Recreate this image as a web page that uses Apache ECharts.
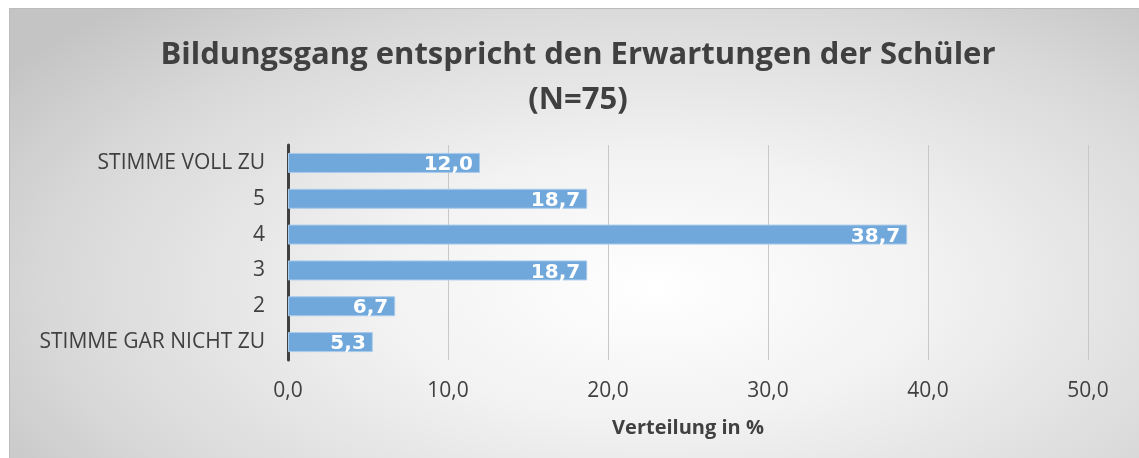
<!DOCTYPE html>
<html>
<head>
<meta charset="utf-8">
<script src="https://cdn.jsdelivr.net/npm/echarts@6/dist/echarts.min.js"></script>
<style>
  body { margin: 0; background: #fff; }
  #frame {
    position: absolute; left: 9px; top: 8px; width: 1130px; height: 450px;
    border-top: 1px solid #bcbcbc; border-left: 1px solid #bcbcbc;
    background: radial-gradient(ellipse 70% 85% at 57% 62%, #ffffff 0%, #f2f2f2 35%, #d9d9d9 75%, #c4c4c4 100%);
  }
  #chart { position: absolute; left: 0; top: 0; width: 1139px; height: 458px; }
</style>
</head>
<body>
<div id="frame"></div>
<div id="chart"></div>
<script>
  // Antwortkategorien (von unten nach oben)
  const categories = ['STIMME GAR NICHT ZU', '2', '3', '4', '5', 'STIMME VOLL ZU'];
  const values = [5.3, 6.7, 18.7, 38.7, 18.7, 12.0];
  const xTicks = [0, 10, 20, 30, 40, 50];

  const font = '"Open Sans", sans-serif';
  const fmt = v => v.toFixed(1).replace('.', ',');

  let chart = echarts.init(document.getElementById('chart'));
  let option = {
    backgroundColor: 'transparent',
    animation: false,
    title: {
      text: 'Bildungsgang entspricht den Erwartungen der Schüler\n(N=75)',
      left: 573,
      textAlign: 'center',
      top: 28,
      textStyle: {
        fontFamily: font,
        fontSize: 31,
        fontWeight: 'bold',
        color: '#404040',
        lineHeight: 45
      }
    },
    grid: {
      left: 288,
      right: 51,
      top: 145,
      bottom: 98
    },
    xAxis: {
      type: 'value',
      min: xTicks[0],
      max: xTicks[xTicks.length - 1],
      interval: 10,
      axisLine: { show: false },
      axisTick: { show: false },
      splitLine: { lineStyle: { color: '#c8c8c8', width: 1 } },
      axisLabel: {
        margin: 21,
        fontFamily: font,
        fontSize: 21,
        color: '#404040',
        formatter: v => fmt(v)
      },
      name: 'Verteilung in %',
      nameLocation: 'middle',
      nameGap: 58,
      nameTextStyle: {
        fontFamily: font,
        fontSize: 20,
        fontWeight: 'bold',
        color: '#404040'
      }
    },
    yAxis: {
      type: 'category',
      data: categories,
      axisLine: { show: true, lineStyle: { color: '#404040', width: 3 } },
      axisTick: { show: false },
      axisLabel: {
        margin: 23,
        fontFamily: font,
        fontSize: 21,
        color: '#404040'
      }
    },
    series: [{
      type: 'bar',
      data: values,
      barWidth: 20,
      itemStyle: {
        color: '#70a8db',
        borderColor: '#a9cbeb',
        borderWidth: 1
      },
      label: {
        show: true,
        position: 'insideRight',
        offset: [-2, 2],
        fontFamily: '"DejaVu Sans", sans-serif',
        fontSize: 20,
        fontWeight: 'bold',
        color: '#ffffff',
        formatter: p => fmt(p.value)
      }
    }]
  };
  chart.setOption(option);
</script>
</body>
</html>
